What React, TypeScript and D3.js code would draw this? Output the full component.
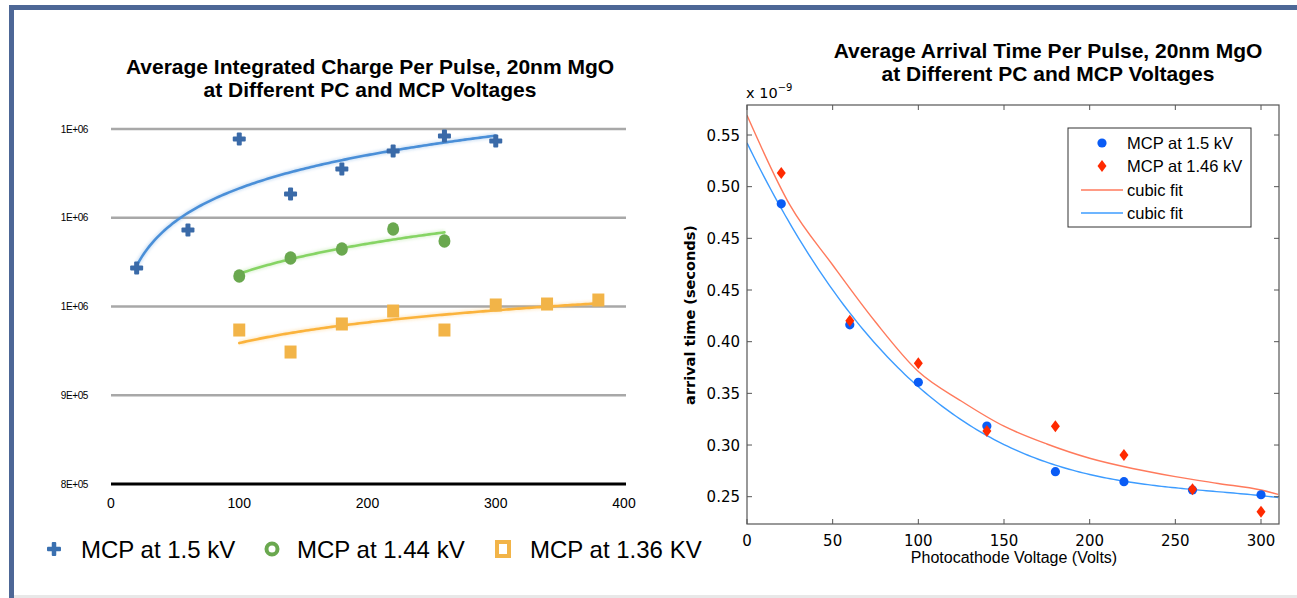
import React from 'react';
import * as d3 from 'd3';

// ---------- Left chart data ----------
const chargeX15 = [20, 60, 100, 140, 180, 220, 260, 300];
const charge15 = [1.0434e6, 1.0862e6, 1.1887e6, 1.1268e6, 1.1549e6, 1.1752e6, 1.1921e6, 1.1865e6];
const chargeX144 = [100, 140, 180, 220, 260];
const charge144 = [1.0344e6, 1.0546e6, 1.0648e6, 1.0873e6, 1.0738e6];
const chargeX136 = [100, 140, 180, 220, 260, 300, 340, 380];
const charge136 = [9.735e5, 9.487e5, 9.803e5, 9.949e5, 9.735e5, 1.0017e6, 1.0028e6, 1.0073e6];
const chargeYTicks = [8e5, 9e5, 1e6, 1.1e6, 1.2e6];
const chargeYTickLabels = ['8E+05', '9E+05', '1E+06', '1E+06', '1E+06'];
const chargeXTicks = [0, 100, 200, 300, 400];
const leftLegend = ['MCP at 1.5 kV', 'MCP at 1.44 kV', 'MCP at 1.36 KV'];

// ---------- Right chart data ----------
const timeX = [20, 60, 100, 140, 180, 220, 260, 300];
const time15 = [0.5334, 0.4163, 0.3607, 0.3184, 0.2742, 0.2645, 0.2565, 0.2519];
const time146 = [0.5633, 0.4202, 0.3791, 0.3136, 0.3181, 0.2904, 0.2572, 0.2355];
// cubic fit curve for MCP 1.46 kV as drawn in the figure
const fit146X = [0, 25, 50, 75, 100, 125, 150, 175, 200, 225, 250, 275, 300, 310];
const fit146Y = [0.619, 0.5323, 0.4742, 0.419, 0.3711, 0.3426, 0.3182, 0.301, 0.2872, 0.2773, 0.2694, 0.2628, 0.2565, 0.2523];
const timeYTicks = [0.25, 0.3, 0.35, 0.4, 0.45, 0.5, 0.55, 0.6];
const timeYTickLabels = ['0.25', '0.30', '0.35', '0.40', '0.45', '0.45', '0.50', '0.55'];
const timeXTicks = [0, 50, 100, 150, 200, 250, 300];
const rightLegend = ['MCP at 1.5 kV', 'MCP at 1.46 kV', 'cubic fit', 'cubic fit'];

function logFit(xs: number[], ys: number[]) {
  const lx = xs.map(Math.log);
  const mx = d3.mean(lx) as number;
  const my = d3.mean(ys) as number;
  let sxy = 0, sxx = 0;
  lx.forEach((v, i) => { sxy += (v - mx) * (ys[i] - my); sxx += (v - mx) * (v - mx); });
  const b = sxy / sxx;
  const a = my - b * mx;
  return (x: number) => a + b * Math.log(x);
}

function cubicFit(xs: number[], ys: number[]) {
  const s = 100;
  const n = 4;
  const A: number[][] = Array.from({ length: n }, () => Array(n + 1).fill(0));
  xs.forEach((x0, k) => {
    const x = x0 / s;
    const p = [1, x, x * x, x * x * x];
    for (let i = 0; i < n; i++) {
      for (let j = 0; j < n; j++) A[i][j] += p[i] * p[j];
      A[i][n] += p[i] * ys[k];
    }
  });
  for (let i = 0; i < n; i++) {
    let piv = i;
    for (let r = i + 1; r < n; r++) if (Math.abs(A[r][i]) > Math.abs(A[piv][i])) piv = r;
    [A[i], A[piv]] = [A[piv], A[i]];
    for (let r = 0; r < n; r++) {
      if (r === i) continue;
      const f = A[r][i] / A[i][i];
      for (let c = i; c <= n; c++) A[r][c] -= f * A[i][c];
    }
  }
  const c = A.map((row, i) => row[n] / row[i]);
  return (x0: number) => { const x = x0 / s; return c[0] + c[1] * x + c[2] * x * x + c[3] * x * x * x; };
}

const Plus = ({ x, y, s, t, color }: any) => (
  <g fill={color}>
    <rect x={x - s / 2} y={y - t / 2} width={s} height={t} rx={1} />
    <rect x={x - t / 2} y={y - s / 2} width={t} height={s} rx={1} />
  </g>
);

export default function App() {
  // Left chart scales
  const lx = d3.scaleLinear().domain([0, 400]).range([111, 624]);
  const ly = d3.scaleLinear().domain([8e5, 1.2e6]).range([484, 129]);
  const lineL = d3.line<[number, number]>().x(d => lx(d[0])).y(d => ly(d[1]));
  const fitPts = (f: (x: number) => number, x0: number, x1: number) =>
    d3.range(x0, x1 + 0.001, 2).map(x => [x, f(x)] as [number, number]);
  const f15 = logFit(chargeX15, charge15);
  const f144 = logFit(chargeX144, charge144);
  const f136 = logFit(chargeX136, charge136);

  // Right chart scales
  const rx = d3.scaleLinear().domain([0, 310.5]).range([747, 1279]);
  const ry = d3.scaleLinear().domain([0.25, 0.6]).range([496.7, 135]);
  const rTop = 105, rBottom = 524;
  const lineR = d3.line<[number, number]>().x(d => rx(d[0])).y(d => ry(d[1]));
  const c15 = cubicFit(timeX, time15);
  const fit15Pts = d3.range(0, 310.6, 2).map(x => [x, c15(x)] as [number, number]);
  const fit146Pts = fit146X.map((x, i) => [x, fit146Y[i]] as [number, number]);
  const lineR146 = d3.line<[number, number]>().x(d => rx(d[0])).y(d => ry(d[1])).curve(d3.curveMonotoneX);

  const blueFit = '#4a8fd8', greenFit = '#86d464', orangeFit = '#fbb33c';
  const blueMk = '#3a6aa8', greenMk = '#6aa84f', orangeMk = '#f2b448';
  const sans = 'Liberation Sans, Arial, Helvetica, sans-serif';
  const mat = 'DejaVu Sans, sans-serif';
  const axisCol = '#555';

  return (
    <svg width={1297} height={598} style={{ position: 'fixed', left: 0, top: 0, background: '#fff' }}
      xmlns="http://www.w3.org/2000/svg">
      <defs>
        <clipPath id="rclip">
          <rect x={747} y={rTop} width={1279 - 747} height={rBottom - rTop} />
        </clipPath>
        <filter id="glow" x="-10%" y="-10%" width="120%" height="120%">
          <feGaussianBlur stdDeviation="1.5" />
        </filter>
      </defs>
      {/* Frame */}
      <rect x={9} y={5} width={1288} height={5} fill="#4d6796" />
      <rect x={9} y={5} width={5} height={593} fill="#4d6796" />
      <rect x={14} y={595} width={1283} height={3} fill="#e8e8e8" />

      {/* ---------- Left chart ---------- */}
      <text x={370} y={74} textAnchor="middle" fontFamily={sans} fontWeight="bold" fontSize={21}>
        Average Integrated Charge Per Pulse, 20nm MgO
      </text>
      <text x={370} y={97} textAnchor="middle" fontFamily={sans} fontWeight="bold" fontSize={21}>
        at Different PC and MCP Voltages
      </text>
      {chargeYTicks.map((t, i) => (
        <g key={'lg' + i}>
          <line x1={111} x2={626} y1={ly(t)} y2={ly(t)} stroke={i === 0 ? '#000' : '#a8a8a8'} strokeWidth={i === 0 ? 3 : 2.5} />
          <text x={88} y={ly(t) + 3.5} textAnchor="end" fontFamily={sans} fontSize={10} letterSpacing={-0.4}>
            {chargeYTickLabels[i]}
          </text>
        </g>
      ))}
      {chargeXTicks.map(t => (
        <text key={'lx' + t} x={lx(t)} y={508} textAnchor="middle" fontFamily={sans} fontSize={14}>{t}</text>
      ))}
      {/* trend lines */}
      {[[f15, 20, 300, blueFit], [f144, 100, 260, greenFit], [f136, 100, 380, orangeFit]].map((d: any, i) => (
        <g key={'tl' + i}>
          <path d={lineL(fitPts(d[0], d[1], d[2])) as string} fill="none" stroke={d[3]} strokeWidth={5} opacity={0.25} filter="url(#glow)" />
          <path d={lineL(fitPts(d[0], d[1], d[2])) as string} fill="none" stroke={d[3]} strokeWidth={2.6} strokeLinecap="round" />
        </g>
      ))}
      {chargeX15.map((x, i) => (
        <Plus key={'p' + i} x={lx(x)} y={ly(charge15[i])} s={13} t={5} color={blueMk} />
      ))}
      {chargeX144.map((x, i) => (
        <ellipse key={'c' + i} cx={lx(x)} cy={ly(charge144[i])} rx={6} ry={6.8} fill={greenMk} />
      ))}
      {chargeX136.map((x, i) => (
        <rect key={'s' + i} x={lx(x) - 6} y={ly(charge136[i]) - 6.5} width={12} height={13} fill={orangeMk} />
      ))}
      {/* left legend */}
      <Plus x={54} y={549} s={14} t={4.5} color="#3a70b0" />
      <text x={81} y={558} fontFamily={sans} fontSize={24}>{leftLegend[0]}</text>
      <circle cx={272} cy={549} r={5.5} fill="none" stroke={greenMk} strokeWidth={4} />
      <text x={297} y={558} fontFamily={sans} fontSize={24}>{leftLegend[1]}</text>
      <rect x={497} y={542} width={12} height={14} fill="none" stroke={orangeMk} strokeWidth={4} />
      <text x={530} y={558} fontFamily={sans} fontSize={24}>{leftLegend[2]}</text>

      {/* ---------- Right chart ---------- */}
      <text x={1048} y={58} textAnchor="middle" fontFamily={sans} fontWeight="bold" fontSize={21}>
        Average Arrival Time Per Pulse, 20nm MgO
      </text>
      <text x={1048} y={81} textAnchor="middle" fontFamily={sans} fontWeight="bold" fontSize={21}>
        at Different PC and MCP Voltages
      </text>
      <text x={746} y={98} fontFamily={mat} fontSize={14.5}>
        x 10<tspan dy={-7} fontSize={10}>−9</tspan>
      </text>
      <g clipPath="url(#rclip)">
        <path d={lineR146(fit146Pts) as string} fill="none" stroke="#ff7a5c" strokeWidth={1.4} />
        <path d={lineR(fit15Pts) as string} fill="none" stroke="#3d9cff" strokeWidth={1.4} />
      </g>
      {timeX.map((x, i) => (
        <circle key={'b' + i} cx={rx(x)} cy={ry(time15[i])} r={4.6} fill="#0a5cf5" />
      ))}
      {timeX.map((x, i) => {
        const cx = rx(x), cy = ry(time146[i]);
        return <path key={'d' + i} d={`M${cx},${cy - 6}L${cx + 4.5},${cy}L${cx},${cy + 6}L${cx - 4.5},${cy}Z`} fill="#ff2a00" />;
      })}
      {/* axes box */}
      <rect x={747} y={rTop} width={1279 - 747} height={rBottom - rTop} fill="none" stroke={axisCol} strokeWidth={1.2} />
      {timeXTicks.map(t => (
        <g key={'rx' + t}>
          <line x1={rx(t)} x2={rx(t)} y1={rBottom} y2={rBottom - 5} stroke={axisCol} />
          <line x1={rx(t)} x2={rx(t)} y1={rTop} y2={rTop + 5} stroke={axisCol} />
          <text x={rx(t)} y={546} textAnchor="middle" fontFamily={mat} fontSize={15}>{t}</text>
        </g>
      ))}
      {timeYTicks.map((t, i) => (
        <g key={'ry' + i}>
          <line x1={747} x2={752} y1={ry(t)} y2={ry(t)} stroke={axisCol} />
          <line x1={1279} x2={1274} y1={ry(t)} y2={ry(t)} stroke={axisCol} />
          <text x={740} y={ry(t) + 5.5} textAnchor="end" fontFamily={mat} fontSize={15}>{timeYTickLabels[i]}</text>
        </g>
      ))}
      <text x={1014} y={563} textAnchor="middle" fontFamily={sans} fontSize={16}>Photocathode Voltage (Volts)</text>
      <text transform="translate(695,315) rotate(-90)" textAnchor="middle" fontFamily={mat} fontWeight="bold" fontSize={14.5}>
        arrival time (seconds)
      </text>
      {/* right legend */}
      <rect x={1068} y={128} width={183} height={99} fill="#fff" stroke="#333" strokeWidth={1} />
      <circle cx={1102} cy={143} r={4.6} fill="#0a5cf5" />
      <text x={1127} y={149} fontFamily={sans} fontSize={16.5}>{rightLegend[0]}</text>
      <path d="M1102,160L1106.5,166L1102,172L1097.5,166Z" fill="#ff2a00" />
      <text x={1127} y={172} fontFamily={sans} fontSize={16.5}>{rightLegend[1]}</text>
      <line x1={1081} x2={1123} y1={190} y2={190} stroke="#ff7a5c" strokeWidth={1.4} />
      <text x={1127} y={196} fontFamily={sans} fontSize={16.5}>{rightLegend[2]}</text>
      <line x1={1081} x2={1123} y1={213} y2={213} stroke="#3d9cff" strokeWidth={1.4} />
      <text x={1127} y={219} fontFamily={sans} fontSize={16.5}>{rightLegend[3]}</text>
    </svg>
  );
}
